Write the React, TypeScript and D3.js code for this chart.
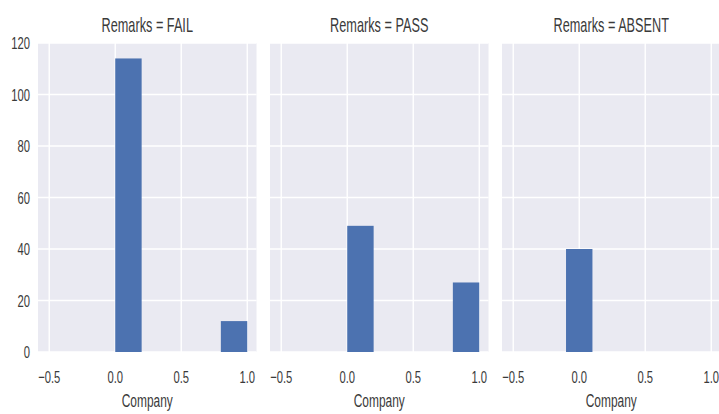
import React from 'react';
import { scaleLinear } from 'd3';

// facet titles and histogram counts (5 bins per facet)
const facets = ['FAIL', 'PASS', 'ABSENT'];
const binEdgesMain = [0, 0.2, 0.4, 0.6, 0.8, 1.0];
const binEdgesAbsent = [-0.5, -0.3, -0.1, 0.1, 0.3, 0.5];
const countsFail = [114, 0, 0, 0, 12];
const countsPass = [49, 0, 0, 0, 27];
const countsAbsent = [0, 0, 40, 0, 0];
const xTicks = [-0.5, 0.0, 0.5, 1.0];
const yTicks = [0, 20, 40, 60, 80, 100, 120];

const facetBins = [binEdgesMain, binEdgesMain, binEdgesAbsent];
const facetCounts = [countsFail, countsPass, countsAbsent];

const width = 719;
const height = 414;
const panelLefts = [38, 270, 502];
const panelWidth = 218.5;
const top = 43;
const bottom = 352;
const textColor = '#3a3a3a';
const font = '"Liberation Sans", Arial, sans-serif';

// matplotlib style minus sign
const fmt = (t: number) => t.toFixed(1).replace('-', '\u2212');

const App: React.FC = () => {
    const yScale = scaleLinear().domain([0, 120]).range([bottom, top]);

    return (
        <svg
            width={width}
            height={height}
            style={{ position: 'fixed', left: 0, top: 0, background: '#fff' }}
            fontFamily={font}
        >
            {facets.map((name, fi) => {
                const left = panelLefts[fi];
                const xScale = scaleLinear()
                    .domain([-0.585, 1.07])
                    .range([left, left + panelWidth]);
                const edges = facetBins[fi];
                const counts = facetCounts[fi];
                const cx = left + panelWidth / 2;
                return (
                    <g key={name}>
                        <rect x={left} y={top} width={panelWidth} height={bottom - top} fill="#eaeaf2" />
                        {/* grid */}
                        {yTicks.map(t => (
                            <line key={'y' + t} x1={left} x2={left + panelWidth} y1={yScale(t)} y2={yScale(t)}
                                stroke="#fff" strokeWidth={1.4} />
                        ))}
                        {xTicks.map(t => (
                            <line key={'x' + t} x1={xScale(t)} x2={xScale(t)} y1={top} y2={bottom}
                                stroke="#fff" strokeWidth={1.4} />
                        ))}
                        {/* bars */}
                        {counts.map((c, i) => c > 0 && (
                            <rect
                                key={i}
                                x={xScale(edges[i])}
                                y={yScale(c)}
                                width={xScale(edges[i + 1]) - xScale(edges[i])}
                                height={yScale(0) - yScale(c)}
                                fill="#4c72b0"
                            />
                        ))}
                        {/* x tick labels */}
                        {xTicks.map(t => (
                            <text key={'xl' + t} transform={`translate(${xScale(t)},382.5) scale(0.66,1)`}
                                textAnchor="middle" fontSize={17} fill={textColor}>
                                {fmt(t)}
                            </text>
                        ))}
                        {/* title */}
                        <text transform={`translate(${cx},32) scale(0.62,1)`} textAnchor="middle"
                            fontSize={20.5} fill={textColor}>
                            {`Remarks = ${name}`}
                        </text>
                        {/* x label */}
                        <text transform={`translate(${cx},407) scale(0.645,1)`} textAnchor="middle"
                            fontSize={18.5} fill={textColor}>
                            Company
                        </text>
                        {/* y tick labels on first facet */}
                        {fi === 0 && yTicks.map(t => (
                            <text key={'yl' + t} transform={`translate(30,${yScale(t) + 6}) scale(0.66,1)`}
                                textAnchor="end" fontSize={17} fill={textColor}>
                                {t}
                            </text>
                        ))}
                    </g>
                );
            })}
        </svg>
    );
};

export default App;
